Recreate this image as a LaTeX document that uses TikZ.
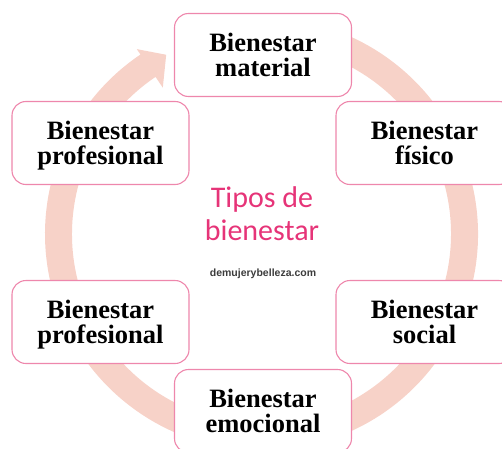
\documentclass[tikz,border=0pt]{standalone}
\usepackage{fontspec}
\usetikzlibrary{calc}
\newfontfamily\boxfont{Liberation Serif}
\newfontfamily\titlefont{Carlito}
\newfontfamily\markfont{Liberation Sans}
\definecolor{ringcol}{RGB}{247,210,200}
\definecolor{boxline}{RGB}{238,135,172}
\definecolor{titlecol}{RGB}{230,52,120}
\definecolor{markcol}{RGB}{60,60,60}
\tikzset{
  wbox/.style={draw=boxline, line width=1.1pt, fill=white, rounded corners=14pt,
    minimum width=177pt, minimum height=83pt, align=center, inner sep=0pt,
    font=\boxfont\bfseries\fontsize{26.5}{25.7}\selectfont, text=black},
  ttl/.style={align=center, inner sep=0pt, text=titlecol,
    font=\titlefont\fontsize{30}{33}\selectfont},
  wmark/.style={inner sep=0pt, text=markcol, font=\markfont\bfseries\fontsize{10.5}{12}\selectfont}
}
\begin{document}
\begin{tikzpicture}[x=1pt,y=1pt]
\useasboundingbox (0,0) rectangle (502,448);
\clip (0,0) rectangle (502,448);
\coordinate (c) at (261.5,214);
% ring with arrow head
\fill[ringcol] ($(c)+(100:216.5)$) arc[start angle=100, end angle=-236, radius=216.5]
  -- ($(c)+(124:223)$) -- ($(c)+(118:203)$) -- ($(c)+(124:176.5)$)
  -- ($(c)+(124:189.5)$) arc[start angle=-236, end angle=100, radius=189.5] -- cycle;
% boxes
\node[wbox] (mat) at (263,393) {Bienestar\\material};
\node[wbox] (prof1) at (100.5,305) {Bienestar\\\smash{p}rofesional};
\node[wbox] (fis) at (424.5,305) {Bienestar\\físico};
\node[wbox] (prof2) at (100.5,126) {Bienestar\\\smash{p}rofesional};
\node[wbox] (soc) at (424.5,126) {Bienestar\\social};
\node[wbox] (emo) at (263,37) {Bienestar\\emocional};
% centre
\node[ttl] (title) at (262,234) {Tipos de\\bienestar};
\node[wmark] (mark) at (263,174) {demujerybelleza.com};
\end{tikzpicture}
\end{document}
